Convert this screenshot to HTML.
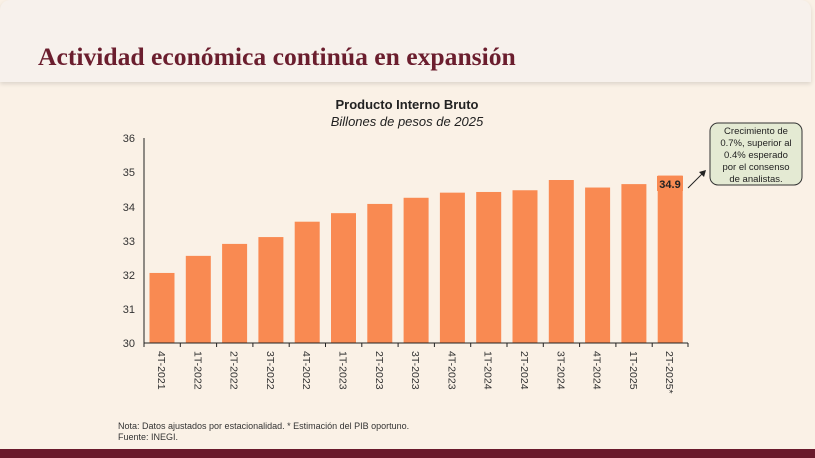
<!DOCTYPE html><html><head><style>
body{margin:0;width:815px;height:458px;overflow:hidden;background:#faf1e6;font-family:"Liberation Sans",sans-serif;position:relative}
.hdr{position:absolute;left:0;top:0;width:811px;height:82px;background:#f7f1ec;border-radius:10px 10px 0 0;box-shadow:0 2px 4px rgba(0,0,0,.12)}
.t{position:absolute;left:38px;top:42px;font-family:"Liberation Serif",serif;font-weight:bold;font-size:25.6px;color:#6b1e2e}
.bot{position:absolute;left:0;top:449px;width:815px;height:9px;background:#6a1a2c}
</style></head><body>
<div class="hdr"></div><div class="t">Actividad económica continúa en expansión</div>
<svg width="815" height="458" style="position:absolute;left:0;top:0" font-family="Liberation Sans,sans-serif">
<text x="407" y="109" text-anchor="middle" font-size="13" font-weight="bold" fill="#222">Producto Interno Bruto</text>
<text x="407" y="126" text-anchor="middle" font-size="13" font-style="italic" fill="#222">Billones de pesos de 2025</text>
<g font-size="11" fill="#333" text-anchor="end">
<text x="135" y="347">30</text><text x="135" y="313">31</text><text x="135" y="279">32</text><text x="135" y="245">33</text><text x="135" y="211">34</text><text x="135" y="176">35</text><text x="135" y="142">36</text></g>
<g id="b" fill="#f98a52"></g>
<line x1="144" y1="138" x2="144" y2="343" stroke="#222"/>
<line x1="144" y1="343" x2="688" y2="343" stroke="#222"/>
<rect x="657" y="176" width="26" height="15" fill="#f98a52"/>
<text x="670" y="188" text-anchor="middle" font-size="11" font-weight="bold" fill="#222">34.9</text>
<line x1="688" y1="188" x2="704" y2="172" stroke="#222"/><polygon points="706,170 699,172 704,177" fill="#222"/>
<rect x="710" y="123" width="92" height="62" rx="8" fill="#e4ead3" stroke="#333"/>
<g font-size="9.5" fill="#222" text-anchor="middle"><text x="756" y="134">Crecimiento de</text><text x="756" y="146">0.7%, superior al</text><text x="756" y="158">0.4% esperado</text><text x="756" y="170">por el consenso</text><text x="756" y="182">de analistas.</text></g>
<g font-size="9" fill="#333"><text x="118" y="429">Nota: Datos ajustados por estacionalidad. * Estimación del PIB oportuno.</text><text x="118" y="440">Fuente: INEGI.</text></g>
<g id="l" font-size="10.5" fill="#333"></g>
</svg>
<div class="bot"></div>
<script>
var v=[32.05,32.55,32.9,33.1,33.55,33.8,34.07,34.25,34.4,34.42,34.47,34.77,34.55,34.65,34.9];
var n=["4T-2021","1T-2022","2T-2022","3T-2022","4T-2022","1T-2023","2T-2023","3T-2023","4T-2023","1T-2024","2T-2024","3T-2024","4T-2024","1T-2025","2T-2025*"];
var b=document.getElementById("b"),l=document.getElementById("l"),t="",h="";
for(var i=0;i<15;i++){var c=162+i*36.3,y=343-(v[i]-30)*34.17;
h+='<rect x="'+(c-12.5)+'" y="'+y+'" width="25" height="'+(343-y)+'"/>';
h+='<line x1="'+(144+i*36.3)+'" y1="343" x2="'+(144+i*36.3)+'" y2="347" stroke="#222"/>';
t+='<text transform="translate('+(c-4)+',351) rotate(90)">'+n[i]+'</text>';}
h+='<line x1="688" y1="343" x2="688" y2="347" stroke="#222"/>';
b.innerHTML=h;l.innerHTML=t;
</script>
</body></html>
